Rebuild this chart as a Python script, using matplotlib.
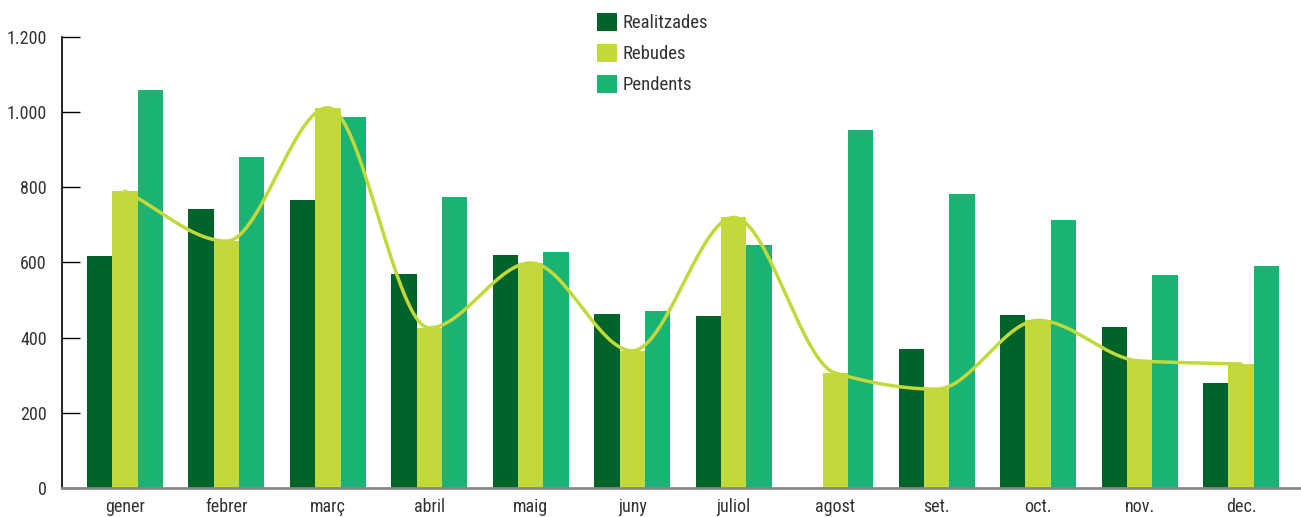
import numpy as np
import matplotlib
matplotlib.use("Agg")
import matplotlib.pyplot as plt
from matplotlib.font_manager import fontManager

# Monthly request counts
months = ["gener", "febrer", "març", "abril", "maig", "juny",
          "juliol", "agost", "set.", "oct.", "nov.", "dec."]
realitzades = [617, 742, 766, 569, 620, 463, 458, 0, 370, 460, 428, 279]
rebudes = [790, 657, 1012, 426, 599, 365, 720, 306, 263, 446, 338, 330]
pendents = [1060, 882, 986, 774, 628, 471, 647, 952, 782, 713, 567, 590]
yticks = [0, 200, 400, 600, 800, 1000, 1200]
ytick_labels = ["0", "200", "400", "600", "800", "1.000", "1.200"]

names = {f.name for f in fontManager.ttflist}
family = [f for f in ["Liberation Sans Narrow", "Roboto Condensed", "Roboto", "DejaVu Sans"] if f in names]
plt.rcParams["font.family"] = family + ["DejaVu Sans"]

c_dark = "#00632A"
c_lime = "#C3D83A"
c_teal = "#1BB373"
txt = "#333333"


def monotone_curve(xs, ys, n=40):
    """Monotone cubic (Fritsch-Carlson) interpolation through the points."""
    xs = np.asarray(xs, float)
    ys = np.asarray(ys, float)
    h = np.diff(xs)
    d = np.diff(ys) / h
    m = np.zeros_like(ys)
    m[0], m[-1] = d[0], d[-1]
    for i in range(1, len(ys) - 1):
        if d[i - 1] * d[i] <= 0:
            m[i] = 0.0
        else:
            w1 = 2 * h[i] + h[i - 1]
            w2 = h[i] + 2 * h[i - 1]
            m[i] = (w1 + w2) / (w1 / d[i - 1] + w2 / d[i])
    ox, oy = [], []
    for i in range(len(xs) - 1):
        t = np.linspace(0, 1, n, endpoint=False)
        h00 = 2 * t**3 - 3 * t**2 + 1
        h10 = t**3 - 2 * t**2 + t
        h01 = -2 * t**3 + 3 * t**2
        h11 = t**3 - t**2
        ox.extend(xs[i] + t * h[i])
        oy.extend(h00 * ys[i] + h10 * h[i] * m[i] + h01 * ys[i + 1] + h11 * h[i] * m[i + 1])
    ox.append(xs[-1])
    oy.append(ys[-1])
    return np.array(ox), np.array(oy)


fig = plt.figure(figsize=(13.01, 5.17), dpi=100)
ax = fig.add_axes([62 / 1301, 1 - 488 / 517, 1 - 62 / 1301, (488 - 37) / 517])

x = np.arange(len(months))
w = 0.25
ax.bar(x - w, realitzades, w, color=c_dark, label="Realitzades", zorder=2)
ax.bar(x, rebudes, w, color=c_lime, label="Rebudes", zorder=2)
ax.bar(x + w, pendents, w, color=c_teal, label="Pendents", zorder=2)

sx, sy = monotone_curve(x, rebudes)
ax.plot(sx, sy, color=c_lime, lw=2.5, zorder=3, solid_capstyle="round")

ax.set_xlim(-0.62, 11.59)
ax.set_ylim(0, 1200)
ax.set_yticks(yticks)
ax.set_yticklabels(ytick_labels)
ax.set_xticks(x)
ax.set_xticklabels(months)

for s in ("top", "right"):
    ax.spines[s].set_visible(False)
ax.spines["left"].set_color("black")
ax.spines["left"].set_linewidth(1.2)
ax.spines["bottom"].set_color("#888888")
ax.spines["bottom"].set_linewidth(2)
ax.spines["bottom"].set_zorder(4)

ax.tick_params(axis="y", direction="in", length=13, width=1, color="black",
               labelsize=13, labelcolor=txt, pad=11)
ax.tick_params(axis="x", length=0, labelsize=13, labelcolor=txt, pad=7)

leg = fig.legend(loc="upper left", bbox_to_anchor=(589 / 1301, 1 - 5 / 517),
                 frameon=False, fontsize=13.5, handlelength=1.1, handleheight=1.1,
                 handletextpad=0.3, labelspacing=0.62, borderaxespad=0)
for t in leg.get_texts():
    t.set_color(txt)

fig.savefig("out.png", dpi=100)
